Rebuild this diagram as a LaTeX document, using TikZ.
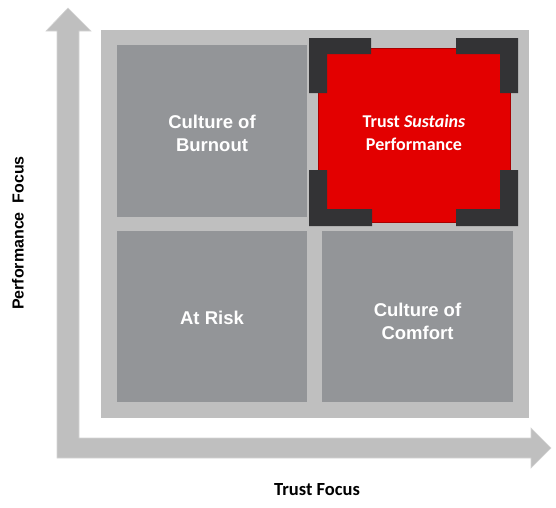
\documentclass[tikz,border=0pt]{standalone}
\usepackage{fontspec}
\setmainfont{Liberation Sans}
\newfontfamily\calibrifont{Carlito}
\usepackage{tikz}
\usetikzlibrary{positioning}
\definecolor{axisgray}{HTML}{BFBFBF}
\definecolor{axisedge}{HTML}{D4D4D4}
\definecolor{quadgray}{HTML}{939598}
\definecolor{trustred}{HTML}{E30000}
\definecolor{trustedge}{HTML}{A80000}
\definecolor{cornerdark}{HTML}{333335}

\begin{document}
\begin{tikzpicture}[x=1pt, y=-1pt,
  quad/.style={fill=quadgray, minimum width=190pt, minimum height=172pt, inner sep=0pt},
  quadtext/.style={text=white, align=center, inner sep=0pt, font=\bfseries\fontsize{18.5}{22.5}\selectfont},
  axislabel/.style={text=black, font=\bfseries\fontsize{16}{18}\selectfont}]
  \useasboundingbox (0,0) rectangle (556,507);

  % L-shaped axes (block arrows)
  \fill[axisgray, draw=axisedge, line width=0.6pt]
    (68,8) -- (91,31) -- (79,31) -- (79,438) -- (531,438) -- (531,428) -- (551,448)
    -- (531,468) -- (531,458) -- (57,458) -- (57,31) -- (46,31) -- cycle;

  % Matrix background
  \fill[axisgray] (101,30) rectangle (529,418);

  % Quadrants
  \node[quad] (burnout) at (212,131) {};
  \node[quad, minimum height=171pt] (atrisk) at (212,316.5) {};
  \node[quad, minimum width=191pt, minimum height=171pt] (comfort) at (417.5,316.5) {};
  \node[quad, fill=trustred, draw=trustedge, line width=0.8pt, minimum width=192pt, minimum height=174pt]
    (sustains) at (414,135) {};

  % Quadrant texts
  \node[quadtext] (burnouttext) at ([yshift=-2.5pt]burnout.center) {Culture of\\Burnout};
  \node[quadtext] (atrisktext) at ([yshift=-1pt]atrisk.center) {At Risk};
  \node[quadtext] (comforttext) at ([yshift=-5pt]comfort.center) {Culture of\\Comfort};
  \node[quadtext, font=\calibrifont\bfseries\fontsize{18}{22.5}\selectfont] (sustainstext)
    at ([yshift=2.5pt]sustains.center) {Trust \textit{Sustains}\\Performance};

  % Corner brackets round the red quadrant
  \fill[cornerdark] (309,38) -- (371,38) -- (371,54) -- (327,54) -- (327,93) -- (309,93) -- cycle;
  \fill[cornerdark] (518,38) -- (456,38) -- (456,54) -- (500,54) -- (500,93) -- (518,93) -- cycle;
  \fill[cornerdark] (309,226) -- (372,226) -- (372,209) -- (327,209) -- (327,170) -- (309,170) -- cycle;
  \fill[cornerdark] (518,226) -- (456,226) -- (456,209) -- (500,209) -- (500,170) -- (518,170) -- cycle;

  % Axis labels
  \node[axislabel, font=\calibrifont\bfseries\fontsize{18.5}{20}\selectfont] (xlabel) at (317,490) {Trust Focus};
  \node[axislabel, rotate=90] (ylabel) at (18,233) {Performance~~Focus};
\end{tikzpicture}
\end{document}
